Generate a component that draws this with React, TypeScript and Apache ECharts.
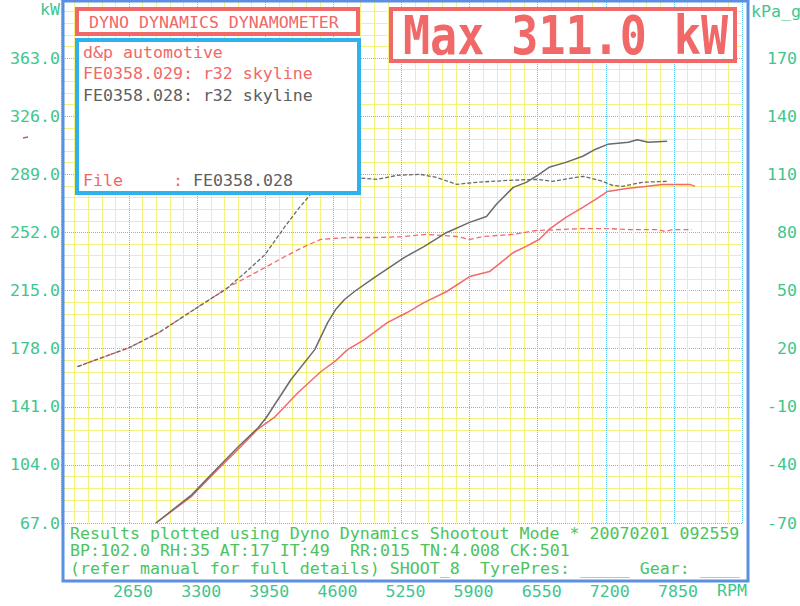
import { useEffect, useRef } from "react";
import * as echarts from "echarts";

// ---- data ----
const rpmTicks = [2000, 2650, 3300, 3950, 4600, 5250, 5900, 6550, 7200, 7850, 8500];

const power028Rpm = [2906, 3247, 3503, 3692, 3882, 3958, 4194, 4422, 4545, 4621, 4706, 4801, 4990, 5275, 5464, 5682, 5900, 6061, 6156, 6317, 6440, 6563, 6658, 6819, 6980, 7103, 7217, 7416, 7501, 7605, 7785];
const power028Kw = [67, 84.9, 102.7, 115.5, 127.6, 134, 158.2, 177.4, 194.6, 202.9, 209.3, 214.4, 223.3, 236, 243, 252, 258.4, 262.2, 269.9, 280.7, 283.9, 289, 293.5, 296.6, 300.5, 305, 308.1, 309.4, 311, 309.4, 310];

const power029Rpm = [2906, 3247, 3503, 3692, 3882, 4043, 4261, 4479, 4611, 4735, 4896, 5114, 5303, 5464, 5682, 5900, 6090, 6317, 6440, 6563, 6658, 6819, 6980, 7103, 7217, 7416, 7577, 7738, 8003, 8051];
const power029Kw = [67, 84, 101.5, 114, 127, 134.6, 149.9, 163.3, 169.7, 177.4, 183.7, 194.6, 201, 207.3, 214.4, 223.9, 227.1, 239.2, 243.1, 247.5, 253.9, 261.6, 268, 273, 278.1, 280.1, 281.3, 282.6, 282.6, 281.3];

const boost028Rpm = [2157, 2337, 2650, 2934, 3313, 3569, 3759, 3948, 4138, 4261, 4422, 4600, 4782, 5019, 5208, 5426, 5587, 5777, 5966, 6279, 6535, 6696, 6980, 7170, 7264, 7359, 7549, 7785];
const boost028Kpa = [10.7, 14.3, 20.5, 28.3, 41.7, 50.5, 59.3, 68.6, 83.1, 91.9, 102.2, 109.5, 108.4, 107.4, 109.5, 110, 108.4, 104.8, 105.9, 106.9, 107.4, 106.4, 109, 106.4, 104.3, 103.8, 105.9, 106.4];

const boost029Rpm = [2157, 2337, 2650, 2934, 3313, 3626, 3948, 4138, 4327, 4479, 4735, 5047, 5275, 5493, 5777, 5900, 6033, 6317, 6535, 6980, 7217, 7416, 7700, 7766, 7842, 8022];
const boost029Kpa = [10.7, 14.3, 20.5, 28.3, 41.7, 52.6, 61.9, 67.6, 72.8, 76.4, 77.4, 77.4, 77.9, 79, 77.9, 76.4, 77.9, 79, 81, 82, 82, 81.5, 81.5, 80.5, 81.5, 81.5];

const kwMin = 67;
const kwMax = 400;
const kwStep = 37;
const kpaMin = -70;
const kpaMax = 200;
const kpaStep = 30;

const zip = (xs: number[], ys: number[]) => xs.map((x, i) => [x, ys[i]]);

const MONO = '"DejaVu Sans Mono", "Liberation Mono", monospace';
const FS = 16.6;
const TEAL = "#3fc68e";
const GREEN = "#4cc35e";
const RED = "#f06868";
const GRAY = "#5e5e5e";
const LINE_GRAY = "#6a6a6a";
const LINE_RED = "#f26a6a";

function txt(text: string, x: number, y: number, fill: string, extra: any = {}, el: any = {}) {
  return {
    type: "text",
    x,
    y,
    z: 120,
    ...el,
    style: {
      text,
      fill,
      fontFamily: MONO,
      fontSize: FS,
      align: "left",
      verticalAlign: "middle",
      ...extra,
    },
  };
}

// bottom strip text: slightly smaller glyph height, stretched to the same width
const strip = (text: string, x: number, y: number) =>
  txt(text, x, y, GREEN, { fontSize: 15 }, { scaleX: FS / 15 });

export default function App() {
  const ref = useRef<HTMLDivElement>(null);
  useEffect(() => {
    if (!ref.current) return;
    const chart = echarts.init(ref.current, null, { renderer: "svg" });
    const gridLine = { show: true, lineStyle: { color: "#5ac8f0", type: "dotted", width: 1 } };
    const minorLine = { show: true, lineStyle: { color: "#f5f17e", width: 1 } };
    chart.setOption({
      animation: false,
      backgroundColor: "#ffffff",
      grid: { left: 61, right: 50, top: 0, bottom: 83, containLabel: false },
      xAxis: {
        type: "value",
        min: rpmTicks[0],
        max: rpmTicks[rpmTicks.length - 1],
        interval: rpmTicks[1] - rpmTicks[0],
        axisLine: { show: false },
        axisTick: { show: false },
        axisLabel: {
          color: TEAL,
          fontFamily: MONO,
          fontSize: FS,
          margin: 60,
          padding: [0, 0, 0, 8],
          formatter: (v: number) => (v === rpmTicks[0] || v === rpmTicks[rpmTicks.length - 1] ? "" : String(v)),
        },
        splitLine: gridLine,
        minorTick: { show: false, splitNumber: 5 },
        minorSplitLine: minorLine,
      },
      yAxis: [
        {
          type: "value",
          position: "left",
          min: kwMin,
          max: kwMax,
          interval: kwStep,
          axisLine: { show: false },
          axisTick: { show: false },
          axisLabel: {
            color: TEAL,
            fontFamily: MONO,
            fontSize: FS,
            margin: 1,
            formatter: (v: number) => (v === kwMax ? "" : v.toFixed(1)),
          },
          splitLine: gridLine,
          minorTick: { show: false, splitNumber: 5 },
          minorSplitLine: minorLine,
        },
        {
          type: "value",
          position: "right",
          min: kpaMin,
          max: kpaMax,
          interval: kpaStep,
          axisLine: { show: false },
          axisTick: { show: false },
          splitLine: { show: false },
          axisLabel: {
            color: TEAL,
            fontFamily: MONO,
            fontSize: FS,
            align: "right",
            margin: 55,
            formatter: (v: number) => (v === kpaMax ? "" : String(v)),
          },
        },
      ],
      series: [
        {
          name: "FE0358.029 boost",
          type: "line",
          yAxisIndex: 1,
          symbol: "none",
          data: zip(boost029Rpm, boost029Kpa),
          lineStyle: { color: LINE_RED, width: 1.3, type: [5, 3] },
          z: 3,
        },
        {
          name: "FE0358.029 power",
          type: "line",
          yAxisIndex: 0,
          symbol: "none",
          data: zip(power029Rpm, power029Kw),
          lineStyle: { color: LINE_RED, width: 1.5 },
          z: 3,
        },
        {
          name: "FE0358.028 boost",
          type: "line",
          yAxisIndex: 1,
          symbol: "none",
          data: zip(boost028Rpm, boost028Kpa),
          lineStyle: { color: LINE_GRAY, width: 1.3, type: [4, 2] },
          z: 4,
        },
        {
          name: "FE0358.028 power",
          type: "line",
          yAxisIndex: 0,
          symbol: "none",
          data: zip(power028Rpm, power028Kw),
          lineStyle: { color: LINE_GRAY, width: 1.5 },
          z: 4,
        },
      ],
      graphic: [
        // bottom info strip
        { type: "rect", z: 100, shape: { x: 63, y: 524, width: 685, height: 57 }, style: { fill: "#ffffff" } },
        // plot frame
        { type: "rect", z: 110, shape: { x: 63, y: 1, width: 685, height: 580 }, style: { fill: "none", stroke: "#5b8fe0", lineWidth: 3 } },
        // title box
        { type: "rect", z: 110, shape: { x: 77, y: 9, width: 281, height: 25 }, style: { fill: "#ffffff", stroke: RED, lineWidth: 4 } },
        // info box
        { type: "rect", z: 110, shape: { x: 77, y: 40, width: 282, height: 153 }, style: { fill: "#ffffff", stroke: "#2fb2ec", lineWidth: 4 } },
        // max box
        { type: "rect", z: 110, shape: { x: 391, y: 9, width: 344, height: 52 }, style: { fill: "#ffffff", stroke: RED, lineWidth: 4 } },
        {
          type: "text",
          x: 403,
          y: 36,
          scaleY: 1.18,
          z: 120,
          style: { text: "Max 311.0 kW", fill: RED, fontFamily: MONO, fontSize: 45, fontWeight: "bold", align: "left", verticalAlign: "middle" },
        },
        txt("DYNO DYNAMICS DYNAMOMETER", 89, 22, RED),
        txt("d&p automotive", 83, 52, RED),
        txt("FE0358.029: r32 skyline", 83, 73, RED),
        txt("FE0358.028: r32 skyline", 83, 95, GRAY),
        txt("File", 83, 180, RED),
        txt(":", 173, 180, RED),
        txt("FE0358.028", 193, 180, GRAY),
        txt("kW", 60, 9, TEAL, { align: "right" }),
        txt("kPa_g", 751, 11, TEAL),
        txt("RPM", 717, 590, TEAL),
        strip("Results plotted using Dyno Dynamics Shootout Mode * 20070201 092559", 70, 533.5),
        strip("BP:102.0 RH:35 AT:17 IT:49", 70, 551),
        strip("RR:015 TN:4.008 CK:501", 350, 551),
        strip("(refer manual for full details) SHOOT_8", 70, 569),
        strip("TyrePres: _____ Gear: ____", 480, 569),
        { type: "line", z: 120, shape: { x1: 23, y1: 138, x2: 28, y2: 137 }, style: { stroke: "#c0604c", lineWidth: 1.5 } },
      ],
    });
    return () => chart.dispose();
  }, []);
  return (
    <div
      ref={ref}
      style={{ position: "fixed", left: 0, top: 0, width: 800, height: 606, background: "#ffffff" }}
    />
  );
}
